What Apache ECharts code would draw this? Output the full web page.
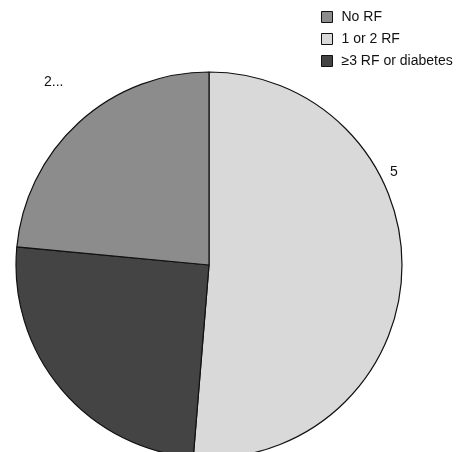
<!DOCTYPE html>
<html>
<head>
<meta charset="utf-8">
<script src="https://cdn.jsdelivr.net/npm/echarts@6/dist/echarts.min.js"></script>
<style>html,body{margin:0;padding:0;background:#fff}#main{width:474px;height:452px}</style>
</head>
<body>
<div id="main"></div>
<script>
// 饼图数据，顺时针从顶部开始
let names = ['1 or 2 RF', '\u22653 RF or diabetes', 'No RF'];
let values = [51.3, 25.2, 23.5];
let colors = ['#d9d9d9', '#444444', '#8c8c8c'];
let legendOrder = ['No RF', '1 or 2 RF', '\u22653 RF or diabetes'];
// 标签位置（像素）
let labelPos = [[390, 172], [10, 400], [44, 82]];

let chart = echarts.init(document.getElementById('main'));
let option = {
    animation: false,
    legend: {
        orient: 'vertical',
        left: 316,
        top: 5,
        itemWidth: 11,
        itemHeight: 11,
        itemGap: 8,
        icon: 'rect',
        data: legendOrder,
        textStyle: {fontFamily: 'Liberation Sans', fontSize: 14, color: '#111', padding: [0, 0, 0, 4]},
        itemStyle: {borderColor: '#111', borderWidth: 1}
    },
    series: [{
        type: 'pie',
        center: [209, 265],
        radius: 193,
        startAngle: 90,
        clockwise: true,
        data: names.map((n, i) => ({name: n, value: values[i], itemStyle: {color: colors[i]}})),
        itemStyle: {borderColor: '#111', borderWidth: 1.2},
        label: {
            position: 'outside',
            formatter: '{c}%',
            fontFamily: 'Liberation Sans',
            fontSize: 14,
            color: '#111'
        },
        labelLine: {show: false},
        labelLayout: (p) => ({x: labelPos[p.dataIndex][0], y: labelPos[p.dataIndex][1], align: 'left', verticalAlign: 'middle'})
    }]
};
chart.setOption(option);
</script>
</body>
</html>
